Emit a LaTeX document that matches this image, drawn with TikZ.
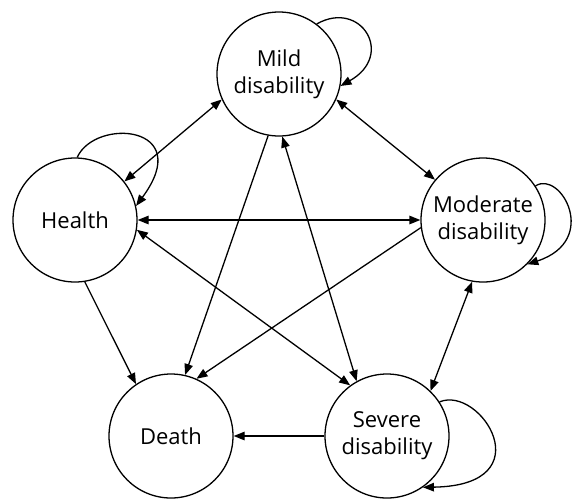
\documentclass[tikz,border=0pt]{standalone}
\usepackage{fontspec}
\setmainfont{Open Sans}
\usetikzlibrary{arrows.meta}
\begin{document}
\begin{tikzpicture}[x=1pt,y=-1pt,
  state/.style={circle,draw,line width=1.3pt,minimum size=124pt,inner sep=0pt,
    align=center,font=\fontsize{22}{27}\selectfont},
  conn/.style={line width=1.3pt,-{Triangle[length=11pt,width=8.5pt]}},
  bconn/.style={line width=1.3pt,{Triangle[length=11pt,width=8.5pt]}-{Triangle[length=11pt,width=8.5pt]}}]
\useasboundingbox (0,0) rectangle (572,499);
\node[state] (mild) at (279,74) {Mild\\disability};
\node[state] (health) at (75,220) {Health};
\node[state] (mod) at (483,220) {Moderate\\disability};
\node[state] (death) at (171,436) {Death};
\node[state] (sev) at (387,436) {Severe\\disability};
% self loops
\draw[conn] (mild.53) .. controls +(44,-25) and +(55,-31) .. (mild.-11);
\draw[conn] (health.88) .. controls +(18,-40) and +(60,-81) .. (health.13);
\draw[conn] (mod.33) .. controls +(25,-16) and +(73,-24) .. (mod.-45);
\draw[conn] (sev.33) .. controls +(41,-17) and +(122,-2) .. (sev.-55);
% bidirectional
\draw[bconn] (health.38) -- (mild.204);
\draw[bconn] (health.east) -- (mod.west);
\draw[bconn] (health.-9) -- (sev.126);
\draw[bconn] (mild.-87) -- (sev.119);
\draw[bconn] (mild.-24) -- (mod.140);
\draw[bconn] (mod.-100) -- (sev.46);
% to death
\draw[conn] (health.-81) -- (death.124);
\draw[conn] (mild.-100) -- (death.77);
\draw[conn] (mod.187) -- (death.66);
\draw[conn] (sev.west) -- (death.east);
\end{tikzpicture}
\end{document}
